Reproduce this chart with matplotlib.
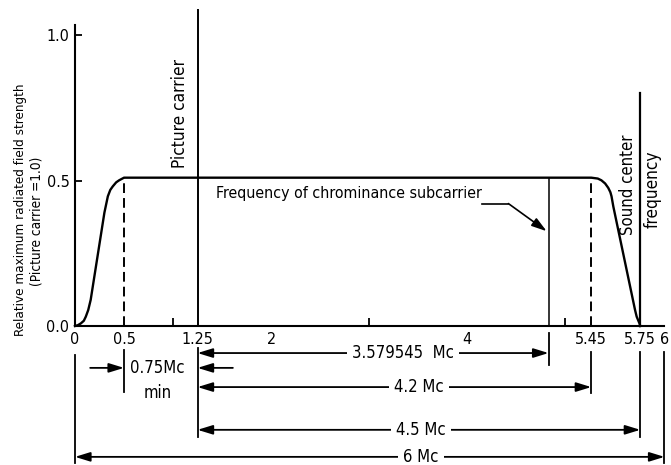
import numpy as np
import matplotlib
matplotlib.use('Agg')
import matplotlib.pyplot as plt
from matplotlib import font_manager as fm

# ---------------- data ----------------
curve_x = [0, 0.03, 0.06, 0.09, 0.11, 0.135, 0.16, 0.30, 0.335, 0.36, 0.385, 0.42, 0.45, 0.50,
           5.45, 5.49, 5.512, 5.535, 5.554, 5.567, 5.574, 5.585, 5.718, 5.728, 5.745, 5.75]
curve_y = [0, 0.003, 0.009, 0.018, 0.032, 0.055, 0.09, 0.39, 0.446, 0.468, 0.48, 0.494, 0.501, 0.51,
           0.51, 0.507, 0.501, 0.49, 0.475, 0.46, 0.446, 0.411, 0.055, 0.032, 0.009, 0]

picture_carrier = 1.25
chroma_offset = 3.579545
chroma = picture_carrier + chroma_offset
lower_edge = 0.5
upper_edge = 5.45
sound_carrier = 5.75
channel_end = 6.0

xtick_pos = [0, 0.5, 1.25, 2, 4, 5.45, 5.75, 6]
xtick_labels = ['0', '0.5', '1.25', '2', '4', '5.45', '5.75', '6']
minor_ticks = [1, 2, 3, 4, 5]
ytick_pos = [0.0, 0.5, 1.0]
ytick_labels = ['0.0', '0.5', '1.0']

dim_labels = ['3.579545  Mc', '4.2 Mc', '4.5 Mc', '6 Mc']
dim_start = [picture_carrier, picture_carrier, picture_carrier, 0]
dim_end = [chroma, upper_edge, sound_carrier, channel_end]

# the original drawing is not to scale near the upper band edge
scale_data = [-1, 5, 5.45, 5.75, 7]
scale_draw = [-1, 5, 5.265, 5.765, 7]

# ---------------- font ----------------
names = {f.name for f in fm.fontManager.ttflist}
cond = [f for f in fm.fontManager.ttflist if f.name == 'DejaVu Sans' and f.stretch == 'condensed']
if cond:
    plt.rcParams['font.family'] = ['DejaVu Sans']
    plt.rcParams['font.stretch'] = 'condensed'
elif 'Liberation Sans Narrow' in names:
    plt.rcParams['font.family'] = ['Liberation Sans Narrow']
else:
    plt.rcParams['font.family'] = ['DejaVu Sans']

FS = 11.5
DFS = 12
K = 'black'

fig = plt.figure(figsize=(6.71, 4.65), dpi=100)
ax = fig.add_axes([75 / 671, 139 / 465, 589.5 / 671, 301 / 465])


def fwd(x):
    return np.interp(x, scale_data, scale_draw)


def inv(x):
    return np.interp(x, scale_draw, scale_data)


ax.set_xscale('function', functions=(fwd, inv))
ax.set_xlim(0, 6)
ax.set_ylim(0, 1.035)

for s in ['top', 'right']:
    ax.spines[s].set_visible(False)
for s in ['left', 'bottom']:
    ax.spines[s].set_linewidth(1.5)

ax.set_xticks(xtick_pos)
ax.set_xticklabels(xtick_labels, fontsize=FS)
ax.set_xticks(minor_ticks, minor=True)
ax.tick_params(axis='x', which='major', length=0, pad=4)
ax.tick_params(axis='x', which='minor', direction='in', length=5.5, width=1.3)
ax.set_yticks(ytick_pos)
ax.set_yticklabels(ytick_labels, fontsize=FS)
ax.tick_params(axis='y', direction='in', length=5, width=1.3, pad=4)

# response curve
ax.plot(curve_x, curve_y, color=K, lw=1.7, clip_on=False, zorder=4)

# dashed band edges
dash = (0, (5, 2.6))
ax.plot([lower_edge, lower_edge], [0, 0.51], color=K, lw=1.4, ls=dash)
ax.plot([upper_edge, upper_edge], [0, 0.51], color=K, lw=1.4, ls=dash)

# carrier lines
ax.plot([picture_carrier, picture_carrier], [0, 1.087], color=K, lw=1.4, clip_on=False)
ax.plot([sound_carrier, sound_carrier], [0, 0.80], color=K, lw=1.6, clip_on=False)
ax.plot([chroma, chroma], [0, 0.51], color=K, lw=1.1)

# extension lines below the axis
ext = [(0, -0.10, -0.47), (lower_edge, -0.082, -0.227), (picture_carrier, -0.076, -0.38),
       (chroma, -0.024, -0.134), (upper_edge, -0.089, -0.23), (sound_carrier, -0.089, -0.38),
       (channel_end, -0.089, -0.47)]
for x, y0, y1 in ext:
    ax.plot([x, x], [y0, y1], color=K, lw=1.3, clip_on=False)

astyle_2 = '<|-|>,head_length=0.65,head_width=0.2'
astyle_1 = '-|>,head_length=0.65,head_width=0.2'


def arrow(x0, x1, y, style):
    ax.annotate('', xy=(x1, y), xytext=(x0, y),
                arrowprops=dict(arrowstyle=style, mutation_scale=14, lw=1.3, color=K,
                                shrinkA=0, shrinkB=0),
                annotation_clip=False, zorder=3)


row_y = [-0.093, -0.21, -0.357, -0.45]
text_x = [3.345, 3.51, 3.53, 3.53]
for lab, a, b, y, tx in zip(dim_labels, dim_start, dim_end, row_y, text_x):
    arrow(a, b, y, astyle_2)
    ax.text(tx, y, lab, fontsize=DFS, ha='center', va='center', zorder=6,
            bbox=dict(boxstyle='square,pad=0.3', fc='white', ec='none'))

# 0.75 Mc min
y075 = -0.144
arrow(0.155, lower_edge, y075, astyle_1)
arrow(1.61, picture_carrier, y075, astyle_1)
ax.text(0.84, y075, '0.75Mc', fontsize=DFS, ha='center', va='center')
ax.text(0.84, -0.232, 'min', fontsize=DFS, ha='center', va='center')

# annotations
ax.text(1.07, 0.729, 'Picture carrier', rotation=90, fontsize=12.4, ha='center', va='center')
ax.text(5.675, 0.485, 'Sound center', rotation=90, fontsize=12, ha='center', va='center')
ax.text(5.88, 0.47, 'frequency', rotation=90, fontsize=12.3, ha='center', va='center',
        clip_on=False)
ax.text(4.15, 0.454, 'Frequency of chrominance subcarrier', fontsize=11.4,
        ha='right', va='center')
ax.plot([4.15, 4.42], [0.421, 0.421], color=K, lw=1.2)
ax.annotate('', xy=(4.81, 0.326), xytext=(4.42, 0.421),
            arrowprops=dict(arrowstyle=astyle_1, mutation_scale=14, lw=1.2, color=K,
                            shrinkA=0, shrinkB=0))

# y label (two lines)
fig.text(21 / 671, 1 - 210 / 465, 'Relative maximum radiated field strength', rotation=90,
         fontsize=9.6, ha='center', va='center')
fig.text(37 / 671, 1 - 221 / 465, '(Picture carrier =1.0)', rotation=90,
         fontsize=9.8, ha='center', va='center')

fig.savefig('out.png', dpi=100, facecolor='white')
